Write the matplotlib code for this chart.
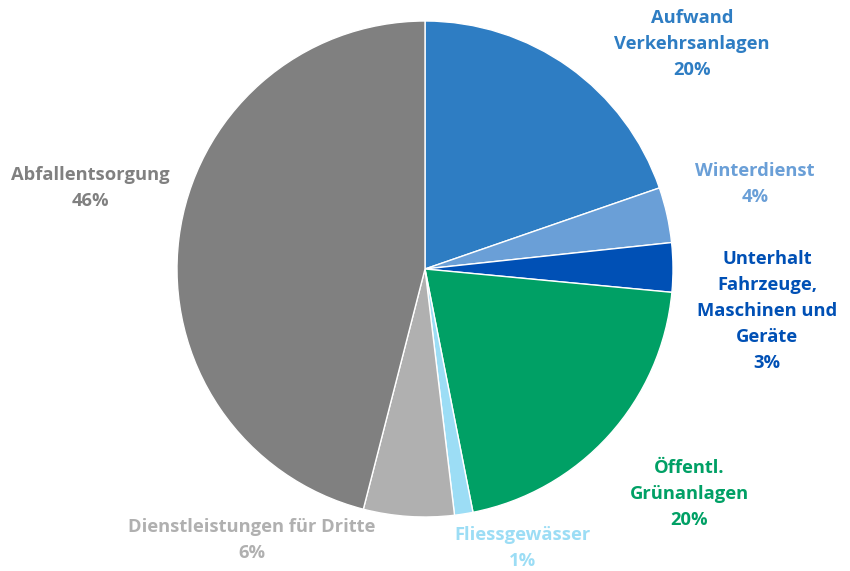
import matplotlib.pyplot as plt

# data
categories = ["Aufwand\nVerkehrsanlagen", "Winterdienst",
              "Unterhalt\nFahrzeuge,\nMaschinen und\nGeräte",
              "Öffentl.\nGrünanlagen", "Fliessgewässer",
              "Dienstleistungen für Dritte", "Abfallentsorgung"]
shares = [19.7, 3.6, 3.2, 20.4, 1.2, 5.9, 46.0]
colors = ["#2E7DC3", "#6A9FD7", "#0050B5", "#00A065", "#9CDDF5", "#B0B0B0", "#808080"]

# label anchor positions (pixels, top-left origin)
label_pos = [(692, 44), (755, 184), (767, 311), (689, 494), (523, 548), (252, 540), (90, 188)]

W, H = 850, 571
fig = plt.figure(figsize=(W / 100, H / 100), dpi=100)
ax = fig.add_axes([0, 0, 1, 1])
ax.set_xlim(0, W)
ax.set_ylim(0, H)
ax.set_aspect("equal")
ax.axis("off")

ax.pie(shares, colors=colors, startangle=90, counterclock=False,
       center=(425, H - 269), radius=248,
       wedgeprops=dict(edgecolor="white", linewidth=1))
ax.set_xlim(0, W)
ax.set_ylim(0, H)

for cat, val, col, (px, py) in zip(categories, shares, colors, label_pos):
    ax.text(px, H - py, f"{cat}\n{round(val)}%", color=col, ha="center", va="center",
            fontsize=13.2, fontweight="bold", family="Open Sans", linespacing=1.56)

fig.savefig("out.png", dpi=100)
